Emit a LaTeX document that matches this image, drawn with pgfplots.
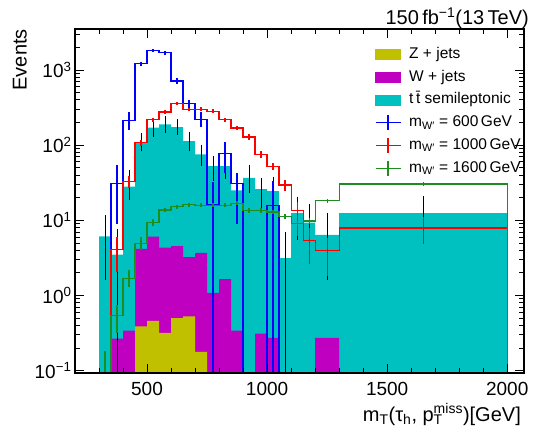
\documentclass[border=0pt]{standalone}
\usepackage{fontspec}
\setmainfont{Liberation Sans}
\usepackage{pgfplots}
\pgfplotsset{compat=1.18}

\definecolor{zjets}{RGB}{192,192,0}
\definecolor{wjets}{RGB}{192,0,192}
\definecolor{ttbar}{RGB}{0,192,192}
\definecolor{sgreen}{RGB}{30,140,30}

\pgfplotsset{
  errbar/.style={forget plot, draw=none, mark=none,
    error bars/.cd, y dir=both, y explicit, error mark=none,
    error bar style={draw=#1, line width=1.2pt, solid}},
  histline/.style={forget plot, draw=#1, line width=1.2pt, const plot, mark=none},
  crossimg/.style={legend image code/.code={
    \draw[#1, line width=1.2pt] (0pt,0pt) -- (25pt,0pt);
    \draw[#1, line width=1.2pt] (12.5pt,-7.5pt) -- (12.5pt,7.5pt);}},
  boximg/.style={legend image code/.code={\fill[#1] (0pt,-5pt) rectangle (25pt,5pt);}},
}

\begin{document}
\begin{tikzpicture}
\useasboundingbox (-75pt,-56pt) rectangle (459pt,373pt);
\begin{axis}[
  name=ax,
  scale only axis, width=449pt, height=344pt,
  ymode=log, xmin=200, xmax=2070, ymin=0.093, ymax=3500,
  axis on top,
  axis line style={line width=1.2pt},
  tick align=inside, major tick length=9pt, minor tick length=5pt,
  every tick/.style={black, line width=0.8pt},
  xtick={500,1000,1500,2000}, xticklabels={500,1000,1500,2000},
  minor xtick={300,400,600,700,800,900,1100,1200,1300,1400,1600,1700,1800,1900},
  ytick={0.1,1,10,100,1000},
  yticklabels={10\textsuperscript{−1},10\textsuperscript{0},10\textsuperscript{1},10\textsuperscript{2},10\textsuperscript{3}},
  minor ytick={0.2,0.3,0.4,0.5,0.6,0.7,0.8,0.9,2,3,4,5,6,7,8,9,20,30,40,50,60,70,80,90,200,300,400,500,600,700,800,900,2000,3000},
  ticklabel style={font=\fontsize{19}{22}\selectfont},
  xticklabel style={yshift=-6pt},
  legend cell align=left,
  legend style={at={(rel axis cs:0.661,0.962)}, anchor=north west, draw=none, fill=none,
    font=\fontsize{15.5}{18}\selectfont, row sep=2.8pt, column sep=6pt,
    nodes={inner sep=2pt, text height=12pt, text depth=4pt}},
]
% stacked backgrounds, drawn as cumulative totals
\addplot[forget plot, fill=ttbar, draw=none, const plot] coordinates {
 (300,0.001)(300,6.1)(350,3.5)(400,28)(450,107)(500,171)(550,189)(600,174)(650,113)(700,75)
 (750,52.5)(800,52.5)(850,25)(900,36.7)(950,26)(1000,24.5)(1050,3.13)(1100,12.4)(1150,9.3)
 (1200,6.4)(1300,12.4)(2000,0.001)};
\addplot[forget plot, fill=wjets, draw=none, const plot] coordinates {
 (350,0.001)(350,0.267)(400,0.34)(450,4.16)(500,6.06)(550,4.33)(600,4.52)(650,3.23)(700,3.68)
 (750,1.08)(800,1.65)(850,0.34)(900,0.001)(950,0.31)(1000,0.272)(1050,0.001)(1200,0.272)(1300,0.001)};
\addplot[forget plot, fill=zjets, draw=none, const plot] coordinates {
 (450,0.001)(450,0.388)(500,0.46)(550,0.317)(600,0.50)(650,0.527)(700,0.177)(750,0.001)};

% background stat. uncertainty
\addplot[forget plot, draw=none, mark=none,
  error bars/.cd, y dir=both, y explicit,
  error bar style={draw=black, line width=1pt, solid},
  error mark=-, error mark options={draw=black, mark size=4pt, line width=1pt}] coordinates {
 (325,6.1) += (0,4.3) -= (0,4.28)
 (375,3.5) += (0,3.2) -= (0,3.49)
 (425,28) += (0,13) -= (0,7)
 (475,107) += (0,21) -= (0,14)
 (525,171) += (0,22) -= (0,26)
 (575,189) += (0,29) -= (0,23)
 (625,174) += (0,20) -= (0,20)
 (675,113) += (0,20) -= (0,20)
 (725,75) += (0,15) -= (0,15)
 (775,52.5) += (0,11) -= (0,15)
 (825,52.5) += (0,15) -= (0,12)
 (875,25) += (0,9) -= (0,7)
 (925,36.7) += (0,11) -= (0,11)
 (975,26) += (0,6) -= (0,11)
 (1025,24.5) += (0,9) -= (0,10)
 (1075,3.13) += (0,3.1) -= (0,3.12)
 (1125,12.4) += (0,5.8) -= (0,6.2)
 (1175,9.3) += (0,5.4) -= (0,5.4)
 (1250,6.4) += (0,4.8) -= (0,4.6)
 (1650,12.4) += (0,6.2) -= (0,6.2)};

% W' 600 GeV
\addplot[histline=blue] coordinates {
 (300,0.001)(350,31)(400,214)(450,1208)(500,1815)(550,1690)(600,711)(650,356)(700,218)
 (750,16)(800,77)(850,31)(900,0.001)(1000,15.6)(1050,0.001)};
\addplot[errbar=blue] coordinates {
 (375,31) += (0,23) -= (0,22)
 (425,214) += (0,61) -= (0,54)
 (475,1208) += (0,80) -= (0,80)
 (525,1815) += (0,90) -= (0,90)
 (575,1690) += (0,90) -= (0,90)
 (625,711) += (0,60) -= (0,60)
 (675,356) += (0,40) -= (0,40)
 (725,218) += (0,57) -= (0,44)
 (775,16) += (0,16) -= (0,15.99)
 (825,77) += (0,33) -= (0,35)
 (875,31) += (0,12) -= (0,22)
 (1025,15.6) += (0,18) -= (0,15.59)};

% W' 1000 GeV
\addplot[histline=red] coordinates {
 (300,0.001)(350,4.05)(400,32.5)(450,107)(500,218)(550,275)(600,356)(650,299)(700,300)
 (750,282)(800,218)(850,169)(900,128)(950,75.7)(1000,52.5)(1050,29.4)(1100,13.4)(1150,5.36)
 (1200,4.0)(1300,7.9)(2000,0.001)};
\addplot[errbar=red] coordinates {
 (375,4.05) += (0,2) -= (0,2)
 (425,32.5) += (0,6) -= (0,6)
 (475,107) += (0,9) -= (0,9)
 (525,218) += (0,14) -= (0,14)
 (575,275) += (0,16) -= (0,16)
 (625,356) += (0,18) -= (0,18)
 (675,299) += (0,17) -= (0,17)
 (725,300) += (0,17) -= (0,17)
 (775,282) += (0,16) -= (0,16)
 (825,218) += (0,14) -= (0,14)
 (875,169) += (0,12) -= (0,12)
 (925,128) += (0,11) -= (0,11)
 (975,75.7) += (0,8) -= (0,8)
 (1025,52.5) += (0,6) -= (0,6)
 (1075,29.4) += (0,5) -= (0,5)
 (1125,13.4) += (0,4.2) -= (0,7.3)
 (1175,5.36) += (0,2.5) -= (0,2.7)
 (1250,4.0) += (0,1.8) -= (0,2.2)
 (1650,7.9) += (0,3.3) -= (0,3.0)};

% W' 1600 GeV
\addplot[histline=sgreen] coordinates {
 (300,0.06)(350,0.538)(400,1.70)(450,4.95)(500,9.3)(550,13.7)(600,15.1)(650,16.1)(700,15.8)
 (750,15.8)(800,15.8)(850,16.8)(900,13.4)(950,13.4)(1000,12.9)(1050,11.2)(1100,9.1)(1150,9.8)
 (1200,18.2)(1300,30.3)(2000,0.001)};
\addplot[errbar=sgreen] coordinates {
 (325,0.06) += (0,0.12) -= (0,0.059)
 (375,0.538) += (0,0.21) -= (0,0.22)
 (425,1.70) += (0,0.5) -= (0,0.4)
 (475,4.95) += (0,1.0) -= (0,0.9)
 (525,9.3) += (0,1.0) -= (0,1.0)
 (575,13.7) += (0,1.0) -= (0,1.0)
 (625,15.1) += (0,1.0) -= (0,1.0)
 (675,16.1) += (0,1.0) -= (0,1.0)
 (725,15.8) += (0,1.0) -= (0,1.0)
 (775,15.8) += (0,1.0) -= (0,1.0)
 (825,15.8) += (0,1.0) -= (0,1.0)
 (875,16.8) += (0,1.0) -= (0,1.0)
 (925,13.4) += (0,1.0) -= (0,1.0)
 (975,13.4) += (0,1.0) -= (0,1.0)
 (1025,12.9) += (0,0.9) -= (0,0.9)
 (1075,11.2) += (0,0.9) -= (0,0.9)
 (1125,9.1) += (0,0.8) -= (0,0.8)
 (1175,9.8) += (0,0.8) -= (0,0.8)
 (1250,18.2) += (0,1.1) -= (0,1.1)
 (1650,30.3) += (0,1.5) -= (0,1.5)};

% legend
\addlegendimage{boximg=zjets}
\addlegendentry{Z + jets}
\addlegendimage{boximg=wjets}
\addlegendentry{W + jets}
\addlegendimage{boximg=ttbar}
\addlegendentry{t\,\={t} semileptonic}
\addlegendimage{crossimg=blue}
\addlegendentry{m\textsubscript{W′} = 600\,GeV}
\addlegendimage{crossimg=red}
\addlegendentry{m\textsubscript{W′} = 1000\,GeV}
\addlegendimage{crossimg=sgreen}
\addlegendentry{m\textsubscript{W′} = 1600\,GeV}
\end{axis}
\node[anchor=base east, inner sep=0pt, font=\fontsize{20}{24}\selectfont]
  at ([xshift=5pt,yshift=4pt]ax.north east) {150\,fb\textsuperscript{−1}(13\,TeV)};
\node[rotate=90, anchor=south east, inner sep=0pt, font=\fontsize{20}{24}\selectfont]
  at ([xshift=-48pt]ax.north west) {Events};
\node[anchor=base east, inner sep=0pt, font=\fontsize{20}{24}\selectfont]
  at ([xshift=-3pt,yshift=-48pt]ax.south east)
  {m\textsubscript{T}(τ\textsubscript{h}, p\rlap{\textsubscript{T}}\textsuperscript{miss})[GeV]};
\end{tikzpicture}
\end{document}
